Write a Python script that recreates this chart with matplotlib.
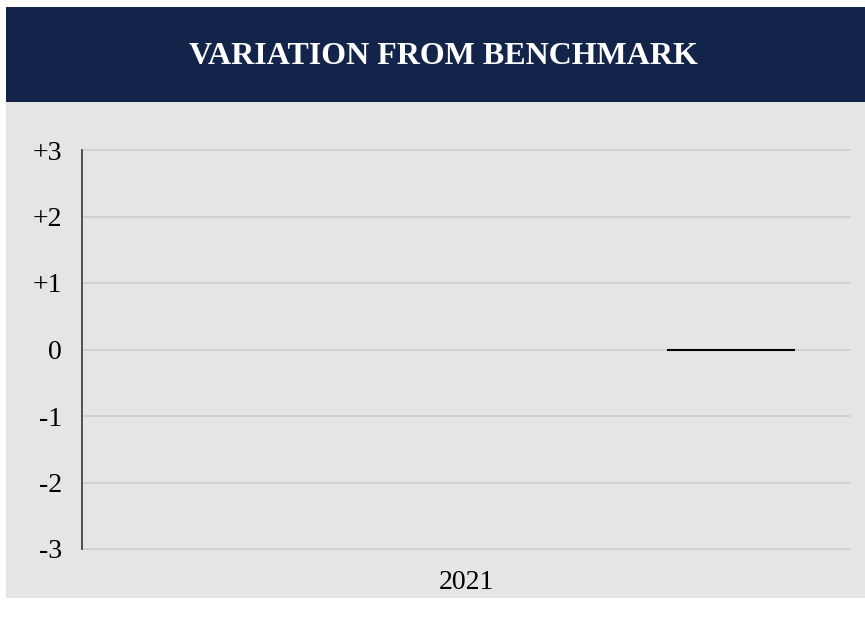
import matplotlib.pyplot as plt
from matplotlib.patches import Rectangle

# chart values
categories = ["2021"]
variation = [0]
y_ticks = [-3, -2, -1, 0, 1, 2, 3]
y_labels = ["-3", "-2", "-1", "0", "+1", "+2", "+3"]
title = "VARIATION FROM BENCHMARK"

navy = "#13244a"
panel = "#e5e5e5"
grid = "#cccccc"

plt.rcParams["font.family"] = ["Liberation Serif", "DejaVu Serif"]

W, H = 865, 626
fig = plt.figure(figsize=(W / 100, H / 100), dpi=100)
fig.patch.set_facecolor("white")

# header band and grey panel, in pixel units converted to figure fractions
def px_rect(x0, y0, x1, y1, color):
    fig.patches.append(Rectangle((x0 / W, 1 - y1 / H), (x1 - x0) / W, (y1 - y0) / H,
                                 transform=fig.transFigure, facecolor=color,
                                 edgecolor="none", zorder=0))

px_rect(6, 7, W, 102, navy)
px_rect(6, 102, W, 598, panel)
fig.text(443 / W, 1 - 56 / H, title, color="white", fontsize=23,
         fontweight="bold", ha="center", va="center")

ax = fig.add_axes([82 / W, 1 - 549 / H, (850 - 82) / W, (549 - 150) / H])
ax.set_zorder(2)
ax.set_facecolor("none")

x = list(range(len(categories)))
offset, width = 0.345, 0.166
ax.bar([i + offset for i in x], variation, width, facecolor="black",
       edgecolor="black", linewidth=1.5, zorder=3)

ax.set_xlim(-0.5, len(categories) - 0.5)
ax.set_ylim(-3, 3)
ax.set_yticks(y_ticks)
ax.set_yticklabels(y_labels)
ax.set_xticks(x)
ax.set_xticklabels(categories)
ax.tick_params(length=0, labelsize=20, colors="black")
ax.tick_params(axis="y", pad=14.5)
ax.tick_params(axis="x", pad=15)
ax.yaxis.grid(True, color=grid, linewidth=1.2)
for gl in ax.get_ygridlines():
    gl.set_clip_on(False)
ax.set_axisbelow(True)
for s in ["top", "right", "bottom"]:
    ax.spines[s].set_visible(False)
ax.spines["left"].set_color("#444444")
ax.spines["left"].set_linewidth(1.3)

fig.savefig("out.png", dpi=100)
